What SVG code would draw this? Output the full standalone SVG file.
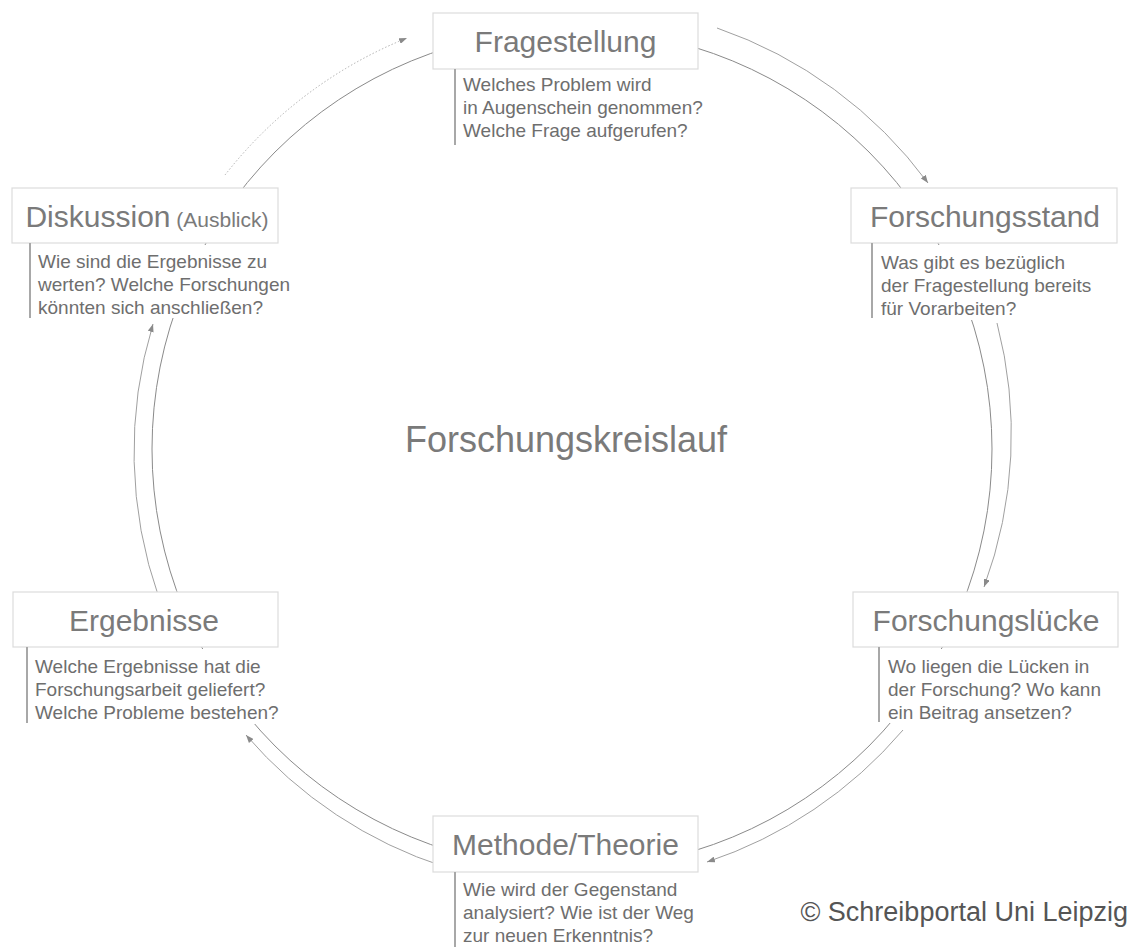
<svg xmlns="http://www.w3.org/2000/svg" width="1134" height="947" viewBox="0 0 1134 947">
<style>
.box{fill:#fff;stroke:#dcdcdc;stroke-width:1.2}
.bg{fill:#fff;stroke:none}
.title{font-family:"Liberation Sans",Arial,sans-serif;font-size:30px;fill:#7a7a7a;text-anchor:middle}
.desc{font-family:"Liberation Sans",Arial,sans-serif;font-size:19px;fill:#6e6e6e}
.bar{stroke:#a8a8a8;stroke-width:2}
.inner{fill:none;stroke:#8a8a8a;stroke-width:1}
.outer{fill:none;stroke:#a0a0a0;stroke-width:1;marker-end:url(#arr)}
.dot{fill:none;stroke:#b0b0b0;stroke-width:1;stroke-dasharray:1.5 2;marker-end:url(#arr)}
.center{font-family:"Liberation Sans",Arial,sans-serif;font-size:36px;fill:#7a7a7a;text-anchor:middle}
.copy{font-family:"Liberation Sans",Arial,sans-serif;font-size:27px;fill:#555;text-anchor:end}
</style>
<defs>
<marker id="arr" markerUnits="userSpaceOnUse" markerWidth="8" markerHeight="6" refX="8" refY="3" orient="auto">
<path d="M0,0 L8,3 L0,6 z" fill="#8a8a8a"/>
</marker>
</defs>
<rect width="1134" height="947" fill="#fff"/>
<g id="connectors">
<circle class="inner" cx="572" cy="449" r="420"/>
<path class="outer" d="M717,28 A440,440 0 0 1 928,183"/>
<path class="outer" d="M997,323 A440,440 0 0 1 984,587"/>
<path class="outer" d="M903,730 A440,440 0 0 1 707,862"/>
<path class="outer" d="M445,867 A440,440 0 0 1 246,735"/>
<path class="outer" d="M159,598 A440,440 0 0 1 153,324"/>
<path class="dot" d="M225,175 A440,440 0 0 1 407,38"/>
</g>
<g id="node-fragestellung">
<rect class="box" x="433" y="13" width="265" height="56"/>
<text class="title" x="565.5" y="52">Fragestellung</text>
<rect class="bg" x="455" y="71" width="230" height="74"/>
<line class="bar" x1="455" y1="69" x2="455" y2="145"/>
<text class="desc" x="463" y="91">Welches Problem wird</text>
<text class="desc" x="463" y="114">in Augenschein genommen?</text>
<text class="desc" x="463" y="137">Welche Frage aufgerufen?</text>
</g>
<g id="node-forschungsstand">
<rect class="box" x="851" y="188" width="266" height="55"/>
<text class="title" x="985" y="227">Forschungsstand</text>
<rect class="bg" x="872" y="245" width="225" height="75"/>
<line class="bar" x1="872" y1="243" x2="872" y2="318"/>
<text class="desc" x="881" y="269">Was gibt es bezüglich</text>
<text class="desc" x="881" y="292">der Fragestellung bereits</text>
<text class="desc" x="881" y="315">für Vorarbeiten?</text>
</g>
<g id="node-forschungsluecke">
<rect class="box" x="853" y="592" width="265" height="55"/>
<text class="title" x="986" y="631">Forschungslücke</text>
<rect class="bg" x="879" y="649" width="235" height="74"/>
<line class="bar" x1="879" y1="647" x2="879" y2="722"/>
<text class="desc" x="888" y="673">Wo liegen die Lücken in</text>
<text class="desc" x="888" y="696">der Forschung? Wo kann</text>
<text class="desc" x="888" y="719">ein Beitrag ansetzen?</text>
</g>
<g id="node-methode">
<rect class="box" x="433" y="816" width="265" height="56"/>
<text class="title" x="565.5" y="855">Methode/Theorie</text>
<line class="bar" x1="455" y1="872" x2="455" y2="947"/>
<text class="desc" x="463" y="896">Wie wird der Gegenstand</text>
<text class="desc" x="463" y="919">analysiert? Wie ist der Weg</text>
<text class="desc" x="463" y="942">zur neuen Erkenntnis?</text>
</g>
<g id="node-ergebnisse">
<rect class="box" x="13" y="592" width="265" height="55"/>
<text class="title" x="144" y="631">Ergebnisse</text>
<rect class="bg" x="27" y="649" width="258" height="75"/>
<line class="bar" x1="27" y1="647" x2="27" y2="723"/>
<text class="desc" x="35" y="673">Welche Ergebnisse hat die</text>
<text class="desc" x="35" y="696">Forschungsarbeit geliefert?</text>
<text class="desc" x="35" y="719">Welche Probleme bestehen?</text>
</g>
<g id="node-diskussion">
<rect class="box" x="12" y="188" width="266" height="55"/>
<text class="title" x="147" y="227">Diskussion<tspan font-size="21px"> (Ausblick)</tspan></text>
<rect class="bg" x="30" y="245" width="255" height="73"/>
<line class="bar" x1="30" y1="243" x2="30" y2="318"/>
<text class="desc" x="38" y="268">Wie sind die Ergebnisse zu</text>
<text class="desc" x="38" y="291">werten? Welche Forschungen</text>
<text class="desc" x="38" y="314">könnten sich anschließen?</text>
</g>
<g id="label-center">
<text class="center" x="566" y="452">Forschungskreislauf</text>
</g>
<g id="label-copyright">
<text class="copy" x="1128" y="921">© Schreibportal Uni Leipzig</text>
</g>
</svg>
